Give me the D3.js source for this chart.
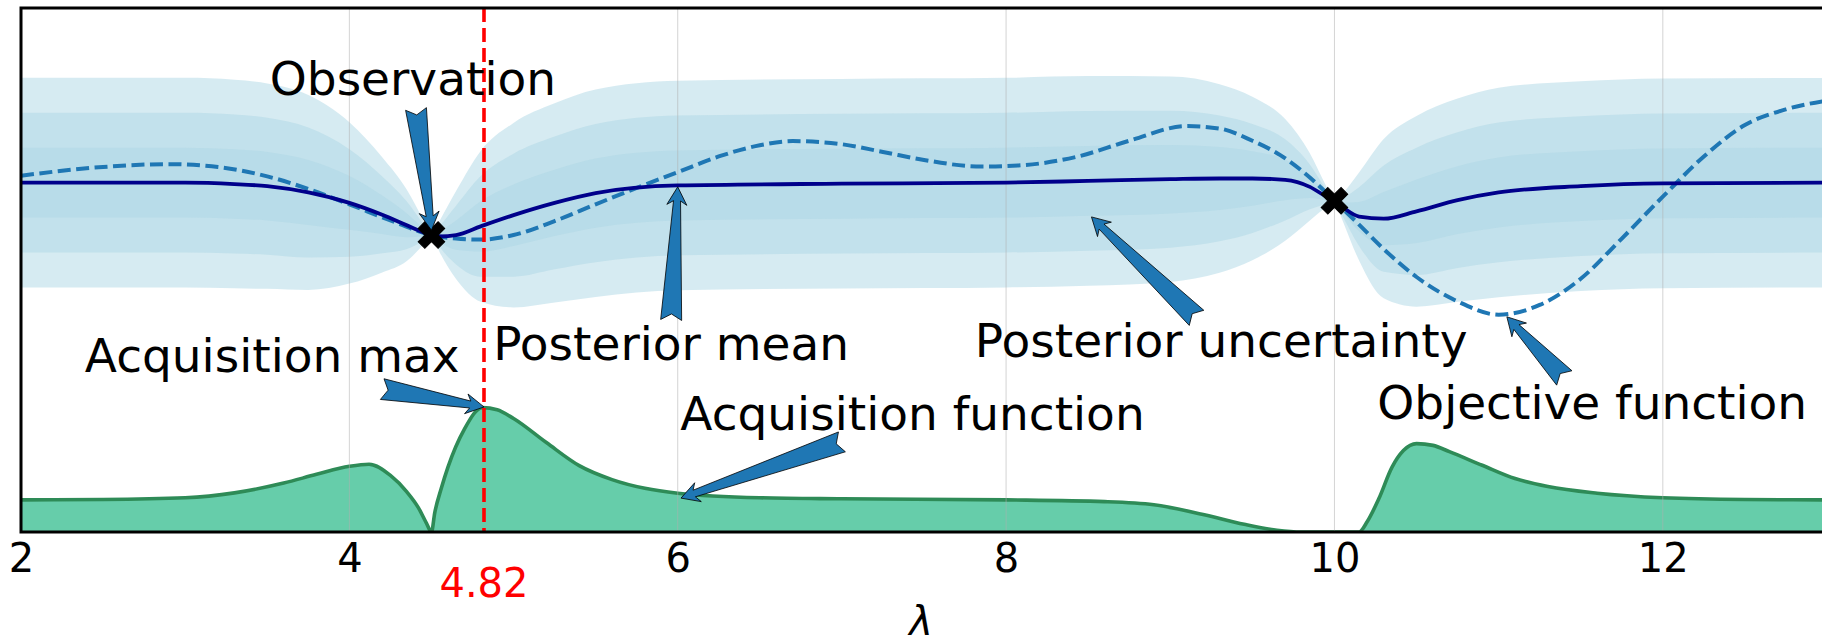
<!DOCTYPE html>
<html><head><meta charset="utf-8">
<script src="https://cdn.jsdelivr.net/npm/d3@7"></script>
<style>
html,body{margin:0;padding:0;background:#fff;}
svg{display:block;font-family:"DejaVu Sans",sans-serif;}
</style>
</head><body>
<svg id="chart" width="1822" height="644"></svg>
<script>
// ---------------- data ----------------
// Gaussian-process posterior: sample locations, mean and standard deviation
const gpX    = [2, 2.5, 3, 3.3, 3.5, 3.75, 4, 4.2, 4.35, 4.45, 4.5, 4.55, 4.65, 4.8, 5, 5.25, 5.5, 6, 7, 8, 8.5, 9, 9.3, 9.5, 9.7, 9.85, 9.95, 10, 10.05, 10.15, 10.3, 10.5, 10.75, 11, 11.5, 12, 13];
const gpMean = [0, 0, 0, -0.04, -0.1, -0.28, -0.58, -0.92, -1.22, -1.42, -1.5, -1.54, -1.5, -1.25, -0.93, -0.58, -0.3, -0.08, -0.03, 0, 0.05, 0.1, 0.12, 0.12, 0.08, -0.12, -0.4, -0.52, -0.7, -0.97, -1.03, -0.82, -0.5, -0.28, -0.1, -0.02, 0];
const gpStd  = [1, 1, 1, 0.995, 0.98, 0.93, 0.77, 0.55, 0.34, 0.12, 0, 0.15, 0.42, 0.72, 0.88, 0.95, 0.99, 1, 1, 1, 1, 0.98, 0.9, 0.78, 0.58, 0.32, 0.1, 0, 0.13, 0.42, 0.76, 0.91, 0.97, 1, 1, 1, 1];
const bandMultipliers = [3, 2, 1];

// Objective function (dashed)
const objX = [2, 2.5, 2.9, 3.2, 3.5, 3.75, 4, 4.25, 4.5, 4.65, 4.8, 5, 5.25, 5.5, 5.75, 6, 6.25, 6.5, 6.7, 7, 7.25, 7.5, 7.85, 8.1, 8.43, 8.75, 9.1, 9.3, 9.5, 9.67, 9.85, 10, 10.15, 10.3, 10.5, 10.75, 11, 11.25, 11.5, 11.75, 12, 12.25, 12.5, 12.75, 13];
const objY = [0.2, 0.45, 0.53, 0.45, 0.18, -0.18, -0.62, -1.08, -1.5, -1.6, -1.63, -1.5, -1.1, -0.62, -0.15, 0.3, 0.75, 1.07, 1.19, 1.1, 0.88, 0.65, 0.46, 0.5, 0.74, 1.2, 1.62, 1.55, 1.2, 0.79, 0.15, -0.52, -1.2, -1.9, -2.7, -3.4, -3.78, -3.5, -2.75, -1.6, -0.4, 0.75, 1.65, 2.1, 2.35];

// Acquisition function (height above the axis floor)
const acqX = [2, 2.5, 3, 3.3, 3.6, 3.8, 4, 4.12, 4.25, 4.35, 4.42, 4.47, 4.5, 4.52, 4.56, 4.6, 4.7, 4.81, 4.9, 5, 5.2, 5.4, 5.6, 5.8, 6, 6.5, 7, 8, 8.6, 8.9, 9.2, 9.45, 9.65, 9.8, 10.15, 10.2, 10.27, 10.35, 10.42, 10.5, 10.6, 10.7, 10.9, 11.1, 11.3, 11.6, 12, 12.5, 13];
const acqY = [0.92, 0.93, 0.98, 1.12, 1.4, 1.65, 1.88, 1.94, 1.62, 1.15, 0.7, 0.25, 0, 0.55, 1.25, 1.85, 2.94, 3.56, 3.5, 3.25, 2.56, 1.9, 1.5, 1.25, 1.11, 0.98, 0.95, 0.92, 0.87, 0.78, 0.5, 0.22, 0.05, 0, 0, 0.3, 0.95, 1.85, 2.33, 2.53, 2.48, 2.3, 1.91, 1.53, 1.3, 1.11, 0.98, 0.93, 0.92];

// Observations
const obsX = [4.5, 10.0];
const obsY = [-1.5, -0.52];

// Axis
const xDomain = [2, 13];
const yDomain = [-10, 5];
const tickValues = [2, 4, 6, 8, 10, 12];
const xLabel = "λ";
const acqMaxX = 4.82;
const acqMaxLabel = "4.82";

// Annotation texts
const annoTexts = ["Observation", "Posterior mean", "Posterior uncertainty", "Objective function", "Acquisition function", "Acquisition max"];

// ---------------- layout ----------------
// annotation placement (data coordinates): text centre/baseline, arrow tail, arrow tip
const annoLayout = [
  {tx: 4.387, ty: 2.51,  ax: 4.406, ay: 2.11,  px: 4.5,  py: -1.36},
  {tx: 5.96,  ty: -5.08, ax: 5.96,  ay: -3.93, px: 6.0,  py: -0.12},
  {tx: 9.31,  ty: -4.99, ax: 9.16,  ay: -3.87, px: 8.52, py: -0.98},
  {tx: 11.57, ty: -6.77, ax: 11.40, ay: -5.59, px: 11.05, py: -3.84},
  {tx: 7.43,  ty: -7.08, ax: 7.0,   ay: -7.42, px: 6.02, py: -9.03},
  {tx: 3.53,  ty: -5.42, ax: 4.20,  ay: -5.91, px: 4.82, py: -6.42}
];

const W = 1822, H = 644;
const L = 21, T = 8, B = 532, R = 1827;

const svg = d3.select("#chart");
svg.append("rect").attr("width", W).attr("height", H).attr("fill", "#fff");

const x = d3.scaleLinear().domain(xDomain).range([L, R]);
const y = d3.scaleLinear().domain(yDomain).range([B, T]);
const acqFloor = yDomain[0];

svg.append("defs").append("clipPath").attr("id", "plotclip")
  .append("rect").attr("x", L).attr("y", T).attr("width", R - L).attr("height", B - T);

const plot = svg.append("g").attr("clip-path", "url(#plotclip)");

// uncertainty bands
const gp = gpX.map((v, i) => ({x: v, m: gpMean[i], s: gpStd[i]}));
bandMultipliers.forEach(k => {
  const area = d3.area()
    .x(d => x(d.x))
    .y0(d => y(d.m - k * d.s))
    .y1(d => y(d.m + k * d.s))
    .curve(d3.curveMonotoneX);
  plot.append("path").datum(gp).attr("d", area)
    .attr("fill", "#add8e6").attr("fill-opacity", 0.5);
});

// acquisition function
const acq = acqX.map((v, i) => ({x: v, a: acqY[i]}));
const acqArea = d3.area().x(d => x(d.x)).y0(y(acqFloor)).y1(d => y(acqFloor + d.a)).curve(d3.curveMonotoneX);
const acqLine = d3.line().x(d => x(d.x)).y(d => y(acqFloor + d.a)).curve(d3.curveMonotoneX);
plot.append("path").datum(acq).attr("d", acqArea).attr("fill", "#66cdaa");
plot.append("path").datum(acq).attr("d", acqLine).attr("fill", "none")
  .attr("stroke", "#2e8b57").attr("stroke-width", 3.6);

// grid
plot.selectAll("line.grid").data(tickValues).enter().append("line")
  .attr("class", "grid")
  .attr("x1", d => x(d)).attr("x2", d => x(d)).attr("y1", T).attr("y2", B)
  .attr("stroke", "#b0b0b0").attr("stroke-opacity", 0.55).attr("stroke-width", 1);

// objective (dashed)
const obj = objX.map((v, i) => ({x: v, y: objY[i]}));
plot.append("path").datum(obj)
  .attr("d", d3.line().x(d => x(d.x)).y(d => y(d.y)).curve(d3.curveMonotoneX))
  .attr("fill", "none").attr("stroke", "#1f77b4").attr("stroke-width", 4)
  .attr("stroke-dasharray", "13,5.5");

// posterior mean
plot.append("path").datum(gp)
  .attr("d", d3.line().x(d => x(d.x)).y(d => y(d.m)).curve(d3.curveMonotoneX))
  .attr("fill", "none").attr("stroke", "#00008b").attr("stroke-width", 3.8);

// acquisition max vertical line
plot.append("line")
  .attr("x1", x(acqMaxX)).attr("x2", x(acqMaxX)).attr("y1", T).attr("y2", B)
  .attr("stroke", "red").attr("stroke-width", 3.6).attr("stroke-dasharray", "14,6");

// observations
const xSym = d3.symbol().type(d3.symbolCross).size(440);
plot.selectAll("path.obs").data(obsX.map((v, i) => ({x: v, y: obsY[i]}))).enter()
  .append("path").attr("class", "obs")
  .attr("d", xSym)
  .attr("transform", d => `translate(${x(d.x)},${y(d.y)}) rotate(45)`)
  .attr("fill", "#000").attr("stroke", "#000").attr("stroke-width", 1);

// frame
svg.append("path")
  .attr("d", `M${R},${T}H${L}V${B}H${R}`)
  .attr("fill", "none").attr("stroke", "#000").attr("stroke-width", 3);

// x axis
const axis = d3.axisBottom(x).tickValues(tickValues).tickSize(0).tickPadding(12).tickFormat(d3.format("d"));
const gAxis = svg.append("g").attr("transform", `translate(0,${B})`).call(axis);
gAxis.select(".domain").remove();
gAxis.selectAll("text").attr("font-size", 40).attr("font-family", "DejaVu Sans").attr("fill", "#000");

svg.append("text").attr("x", x(acqMaxX)).attr("y", 597)
  .attr("text-anchor", "middle").attr("font-size", 40).attr("fill", "red")
  .text(acqMaxLabel);

svg.append("text").attr("x", (L + R) / 2 - 3).attr("y", 635)
  .attr("text-anchor", "middle").attr("font-size", 40).attr("font-style", "italic")
  .attr("fill", "#000").text(xLabel);

// annotations
function fancyArrow(x0, y0, x1, y1) {
  const dx = x1 - x0, dy = y1 - y0, len = Math.hypot(dx, dy);
  const ux = dx / len, uy = dy / len, nx = -uy, ny = ux;
  const hl = 18, hw = 10, nw = 3.5, tw = 10.5, notch = 6;
  const bx = x1 - ux * hl, by = y1 - uy * hl;
  const kx = bx + ux * 4, ky = by + uy * 4;
  const pts = [
    [x1, y1],
    [bx + nx * hw, by + ny * hw],
    [kx + nx * nw, ky + ny * nw],
    [x0 + nx * tw, y0 + ny * tw],
    [x0 + ux * notch, y0 + uy * notch],
    [x0 - nx * tw, y0 - ny * tw],
    [kx - nx * nw, ky - ny * nw],
    [bx - nx * hw, by - ny * hw]
  ];
  return "M" + pts.map(p => p.join(",")).join("L") + "Z";
}

const gAnno = svg.append("g");
annoTexts.forEach((t, i) => {
  const a = annoLayout[i];
  gAnno.append("path")
    .attr("d", fancyArrow(x(a.ax), y(a.ay), x(a.px), y(a.py)))
    .attr("fill", "#1f77b4").attr("stroke", "#000").attr("stroke-width", 0.8)
    .attr("stroke-linejoin", "miter");
  gAnno.append("text")
    .attr("x", x(a.tx)).attr("y", y(a.ty))
    .attr("text-anchor", "middle").attr("font-size", 47).attr("fill", "#000")
    .text(t);
});
</script>
</body></html>
